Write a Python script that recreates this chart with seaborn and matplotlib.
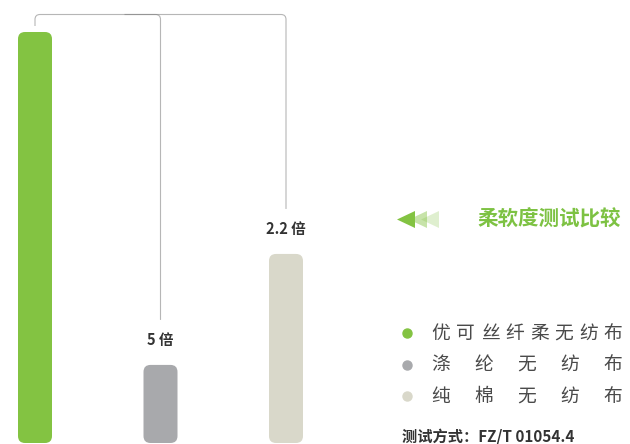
import numpy as np
import pandas as pd
import seaborn as sns
import matplotlib.pyplot as plt
from matplotlib.patches import FancyBboxPatch, Polygon, PathPatch
from matplotlib.path import Path
from matplotlib.lines import Line2D

# data
materials = ["优可丝纤柔无纺布", "涤纶无纺布", "纯棉无纺布"]
softness = [100, 19, 46]
ratio_labels = ["", "5 倍", "2.2 倍"]
colors = ["#83c342", "#a8a9ac", "#d9d8ca"]
title = "柔软度测试比较"
footer = "测试方式：FZ/T 01054.4"

W, H = 630, 444
px_x = 125.5   # pixels per category step
ppu = 4.11     # pixels per softness unit


def fx(x):
    return x / W


def fy(y):
    return 1 - y / H


sns.set_theme(style="white")
plt.rcParams['font.family'] = ['Noto Sans CJK SC', 'DejaVu Sans']

fig = plt.figure(figsize=(W / 100, H / 100), dpi=100)
ax = fig.add_axes([0, 0, 1, 1])

df = pd.DataFrame({"material": materials, "softness": softness})
sns.barplot(data=df, x="material", y="softness", hue="material",
            palette=colors, width=34 / px_x, saturation=1,
            legend=False, ax=ax)

ax.set_xlim(-35 / px_x, (W - 35) / px_x)
ax.set_ylim(-1 / ppu, (H - 1) / ppu)
ax.set_axis_off()

# rounded bars
aspect = px_x / ppu
for p in list(ax.patches):
    x, y, w, h = p.get_x(), p.get_y(), p.get_width(), p.get_height()
    fc = p.get_facecolor()
    p.remove()
    ax.add_patch(FancyBboxPatch((x, y), w, h,
                                boxstyle=f"round,pad=0,rounding_size={7 / px_x}",
                                mutation_aspect=aspect, fc=fc, ec="none"))

# ratio labels above bars
for i, (v, lab) in enumerate(zip(softness, ratio_labels)):
    if lab:
        ax.text(i, v + 25 / ppu, lab, ha="center", va="center",
                fontsize=10.5, fontweight="bold", color="#333333")

# connector lines
top = (H - 1 - 14.5) / ppu
rx, ry = 5 / px_x, 5 / ppu
y_start = softness[0] + 6 / ppu
end1 = softness[1] + 45 / ppu
end2 = softness[2] + 45 / ppu
path_a = Path([(0, y_start), (0, top - ry), (0, top), (rx, top),
               (1 - rx, top), (1, top), (1, top - ry), (1, end1)],
              [Path.MOVETO, Path.LINETO, Path.CURVE3, Path.CURVE3,
               Path.LINETO, Path.CURVE3, Path.CURVE3, Path.LINETO])
path_b = Path([(1 - 36 / px_x, top), (2 - rx, top), (2, top), (2, top - ry), (2, end2)],
              [Path.MOVETO, Path.LINETO, Path.CURVE3, Path.CURVE3, Path.LINETO])
for pth in (path_a, path_b):
    ax.add_patch(PathPatch(pth, fc="none", ec="#7a7a7a", alpha=0.55, lw=0.8))

# title with arrows
for tip, a in zip([397, 409, 421], [1.0, 0.45, 0.25]):
    fig.add_artist(Polygon([(fx(tip), fy(219.5)), (fx(tip + 18), fy(211)), (fx(tip + 18), fy(228))],
                           closed=True, fc="#83c342", ec="none", alpha=a,
                           transform=fig.transFigure))
fig.text(fx(549), fy(219), title, ha="center", va="center",
         fontsize=14.8, fontweight="bold", color="#7dc243")

# legend with spaced characters
for k, (name, c) in enumerate(zip(materials, colors)):
    yy = 333 + k * 31.5
    fig.add_artist(Line2D([fx(407)], [fy(yy)], marker="o", ms=6.5, color=c,
                          transform=fig.transFigure))
    chars = list(name)
    for ch, xx in zip(chars, np.linspace(441, 613, len(chars))):
        fig.text(fx(xx), fy(yy), ch, ha="center", va="center",
                 fontsize=13.5, color="#4a4a4a")

fig.text(fx(402), fy(437), footer, ha="left", va="center",
         fontsize=11, fontweight="bold", color="#333333")

fig.savefig("out.png", dpi=100)
